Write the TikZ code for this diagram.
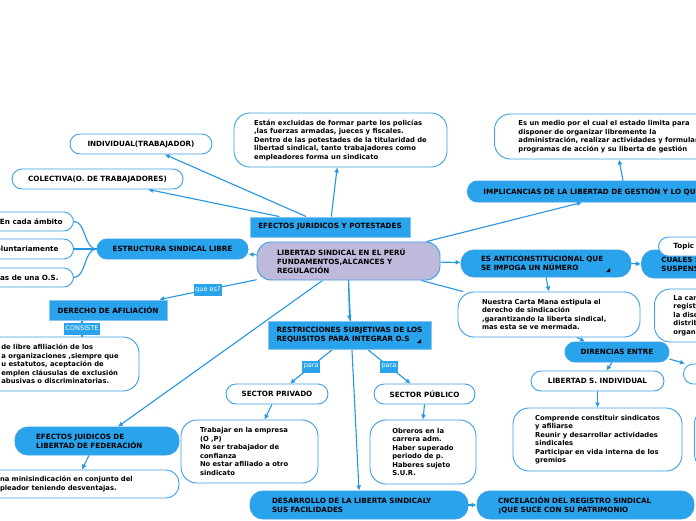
\documentclass[tikz,border=0pt]{standalone}
\usepackage{fontspec}
\setmainfont{DejaVu Sans}
\usetikzlibrary{arrows.meta,backgrounds}

\definecolor{mapblue}{RGB}{41,163,236}
\definecolor{edgeblue}{RGB}{60,158,230}
\definecolor{lineblue}{RGB}{36,150,228}
\definecolor{lilac}{RGB}{190,186,219}

\tikzset{
  mapnode/.style={font=\fontsize{7.2}{8.8}\selectfont\bfseries, inner sep=2pt, align=left, line width=0.9pt},
  topic/.style={mapnode, draw=edgeblue, fill=mapblue, rounded corners=10pt},
  topicbox/.style={mapnode, draw=edgeblue!60, fill=mapblue},
  subtopic/.style={mapnode, draw=edgeblue, fill=white, rounded corners=10pt},
  note/.style={mapnode, draw=edgeblue, fill=white, rounded corners=16pt, font=\fontsize{6.8}{8.5}\selectfont\bfseries},
  central/.style={mapnode, draw=edgeblue, fill=lilac, rounded corners=14pt},
  tag/.style={fill=mapblue, text=white, font=\fontsize{6.6}{7}\selectfont, inner sep=1.5pt, minimum height=12pt},
  link/.style={draw=lineblue, line width=1.1pt, -{Latex[length=5pt,width=5pt]}},
  branch/.style={draw=lineblue, line width=1.1pt},
}

\begin{document}
\begin{tikzpicture}[x=1pt,y=-1pt]
\useasboundingbox (0,0) rectangle (696,520);
\clip (0,0) rectangle (696,520);

% Central topic
\node[central, text width=143pt, minimum width=183pt, minimum height=38pt] (libertad) at (348.5,261) {LIBERTAD SINDICAL EN EL PERÚ\\FUNDAMENTOS,ALCANCES Y\\REGULACIÓN};

% Efectos juridicos y potestades
\node[topicbox, minimum width=160pt, minimum height=20pt] (efectos) at (330,227) {EFECTOS JURIDICOS Y POTESTADES};
\node[subtopic, minimum width=142pt, minimum height=20pt] (individual) at (141,144) {INDIVIDUAL(TRABAJADOR)};
\node[subtopic, minimum width=171pt, minimum height=20pt] (colectiva) at (97.5,179) {COLECTIVA(O. DE TRABAJADORES)};
\node[note, minimum width=213pt, minimum height=54pt] (excluidos) at (340.5,140) {Están excluidas de formar parte los policías\\,las fuerzas armadas, jueces y fiscales.\\Dentro de las potestades de la titularidad de\\libertad sindical, tanto trabajadores como\\empleadores forma un sindicato};

% Implicancias de la libertad de gestion
\node[topic, anchor=west, inner xsep=16pt, minimum height=21pt] (implicancias) at (467,191.5) {IMPLICANCIAS DE LA LIBERTAD DE GESTIÓN Y LO QUE};
\node[note, anchor=west, inner xsep=24pt, minimum height=45pt] (medio) at (494,136.5) {Es un medio por el cual el estado limita para\\disponer de organizar libremente la\\administración, realizar actividades y formular\\programas de acción y su liberta de gestión};

% Estructura sindical libre
\node[topic, minimum width=151pt, minimum height=20pt] (estructura) at (172.5,249) {ESTRUCTURA SINDICAL LIBRE};
\node[subtopic, anchor=east, inner xsep=11pt, minimum height=19pt] (ambito) at (74,221.5) {En cada ámbito};
\node[subtopic, anchor=east, inner xsep=15pt, minimum height=20pt] (voluntario) at (74,249) {Voluntariamente};
\node[subtopic, anchor=east, inner xsep=15pt, minimum height=19pt] (formas) at (74,277.5) {Formas de una O.S.};

% Derecho de afiliacion
\node[topicbox, minimum width=118pt, minimum height=20pt] (afiliacion) at (108,310) {DERECHO DE AFILIACIÓN};
\node[note, minimum width=158pt, minimum height=54pt] (afilnote) at (60,364) {de libre afiliación de los\\a organizaciones ,siempre que\\u estatutos, aceptación de\\emplen cláusulas de exclusión\\abusivas o discriminatorias.};

% Restricciones subjetivas
\node[topicbox, minimum width=163pt, minimum height=28pt] (restricciones) at (349.5,335) {RESTRICCIONES SUBJETIVAS DE LOS\\REQUISITOS PARA INTEGRAR O.S};
\fill (417,343) -- (421,343) -- (421,339) -- cycle;
\node[subtopic, minimum width=102pt, minimum height=20pt] (privado) at (277,394) {SECTOR PRIVADO};
\node[subtopic, minimum width=101pt, minimum height=20pt] (publico) at (424.5,394) {SECTOR PÚBLICO};
\node[note, text width=99pt, minimum width=137pt, minimum height=63pt] (privnote) at (249.5,451.5) {Trabajar en la empresa\\(O ,P)\\No ser trabajador de\\confianza\\No estar afiliado a otro\\sindicato};
\node[note, minimum width=106pt, minimum height=64pt] (pubnote) at (423,452) {Obreros en la\\carrera adm.\\Haber superado\\periodo de p.\\Haberes sujeto\\S.U.R.};

% Federacion
\node[topic, text width=122pt, minimum width=164pt, minimum height=28pt, rounded corners=13pt] (federacion) at (97,441) {EFECTOS JUIDICOS DE\\LIBERTAD DE FEDERACIÓN};
\node[note, text width=160pt, minimum width=198pt, minimum height=28pt, rounded corners=13pt] (fednote) at (80,484) {na minisindicación en conjunto del\\pleador teniendo desventajas.};

% Desarrollo y cancelacion
\node[topic, text width=174pt, minimum width=218pt, minimum height=28pt, rounded corners=13pt] (desarrollo) at (359,505) {DESARROLLO DE LA LIBERTA SINDICALY\\SUS FACILIDADES};
\node[topic, text width=175pt, minimum width=217pt, minimum height=28pt, rounded corners=13pt] (cancelacion) at (585.5,505) {CNCELACIÓN DEL REGISTRO SINDICAL\\¡QUE SUCE CON SU PATRIMONIO};

% Anticonstitucional
\node[topic, text width=130pt, minimum width=170pt, minimum height=27pt, rounded corners=13pt] (anticonst) at (546,263.5) {ES ANTICONSTITUCIONAL QUE\\SE IMPOGA UN NÚMERO};
\fill (606,272) -- (610,272) -- (610,268) -- cycle;
\node[topic, anchor=west, inner xsep=20pt, minimum height=28pt, rounded corners=13pt] (cuales) at (641,264) {CUALES SON LAS CAUSALES DE\\SUSPENSIÓN};
\node[subtopic, anchor=west, inner xsep=15pt, minimum height=19pt] (topico) at (658,246.5) {Topic};
\node[note, text width=134pt, minimum width=182pt, minimum height=45pt] (carta) at (549,314.5) {Nuestra Carta Mana estipula el\\derecho de sindicación\\,garantizando la liberta sindical,\\mas esta se ve mermada.};
\node[note, anchor=west, inner xsep=19pt, minimum height=53pt] (cancelnote) at (654,315.5) {La cancelación del\\registro conlleva\\la disolución y\\distribución de la\\organización};

% Diferencias
\node[topic, minimum width=104pt, minimum height=20pt] (diferencias) at (617,352) {DIRENCIAS ENTRE};
\node[subtopic, minimum width=133pt, minimum height=20pt] (individualS) at (597.5,381) {LIBERTAD S. INDIVIDUAL};
\node[note, minimum width=169pt, minimum height=63pt] (indnote) at (597.5,439.5) {Comprende constituir sindicatos\\y afiliarse\\Reunir y desarrollar actividades\\sindicales\\Participar en vida interna de los\\gremios};
\node[subtopic, anchor=west, inner xsep=16pt, minimum height=20pt] (colectivaS) at (683,374) {LIBERTAD S. COLECTIVA};
\node[note, anchor=west, minimum width=120pt, minimum height=62pt] (colnote) at (694,439) {};

% Connectors
\begin{scope}[on background layer]
\draw[link] (efectos) -- (individual);
\draw[link] (efectos) -- (colectiva);
\draw[link] (efectos) -- (excluidos);
\draw[link] (libertad.14) -- ([xshift=115pt]implicancias.south west);
\draw[link] ([xshift=156pt]implicancias.north west) -- ([xshift=125pt]medio.south west);
\draw[link] (libertad) -- (estructura);
\draw[branch] (estructura.west) .. controls (84,249) and (86,221.5) .. (ambito.east);
\draw[branch] (estructura.west) -- (voluntario.east);
\draw[branch] (estructura.west) .. controls (84,249) and (86,277.5) .. (formas.east);
\draw[link] (libertad) -- node[tag] (quees) {que es?} (afiliacion);
\draw[branch] ([xshift=-26pt]afiliacion.south) -- node[tag] (consiste) {CONSISTE} ([xshift=22pt]afilnote.north);
\draw[link] (libertad.south) -- (restricciones.north);
\draw[link] ([xshift=-17pt]restricciones.south) -- node[tag] (paraPriv) {para} ([xshift=13pt]privado.north);
\draw[link] ([xshift=18pt]restricciones.south) -- node[tag] (paraPub) {para} ([xshift=-14pt]publico.north);
\draw[link] ([xshift=-5pt]privado.south) -- ([xshift=15pt]privnote.north);
\draw[link] (publico.south) -- (pubnote.north);
\draw[link] (libertad.south) -- (desarrollo.north);
\draw[link] ([xshift=-26pt]libertad.south) -- ([xshift=21pt]federacion.north);
\draw[link] ([xshift=-8pt]federacion.south) -- ([xshift=2pt]fednote.north);
\draw[link] (desarrollo.east) -- (cancelacion.west);
\draw[link] (libertad) -- (anticonst);
\draw[link] (anticonst.east) -- (cuales.west);
\draw[link] (anticonst.south) -- (carta.north);
\draw[branch] (libertad) -- (carta);
\draw[link] ([xshift=28pt]carta.south) -- ([xshift=-32pt]diferencias.north);
\draw[link] ([xshift=-5pt]diferencias.south) -- ([xshift=9pt]individualS.north);
\draw[link] ([yshift=-7pt]diferencias.east) -- ([xshift=2pt]colectivaS.north west);
\draw[link] (individualS.south) -- (indnote.north);
\end{scope}
\end{tikzpicture}
\end{document}
